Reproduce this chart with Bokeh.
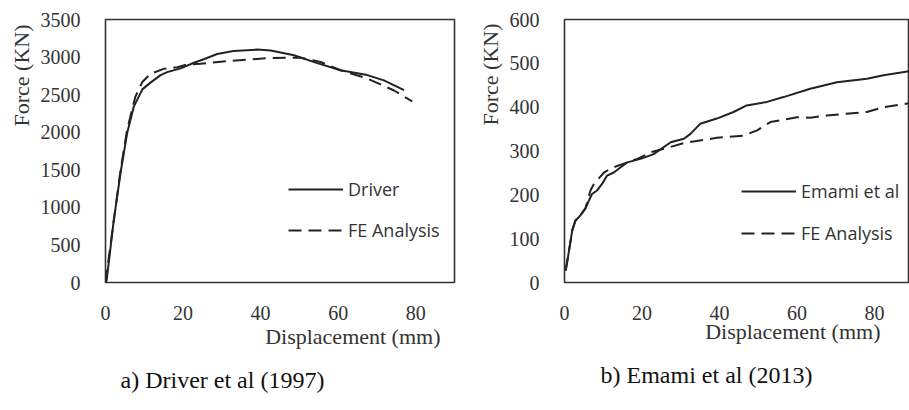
from bokeh.plotting import figure
from bokeh.layouts import row
from bokeh.models import Range1d, FixedTicker, Title, Legend, LegendItem
from bokeh.embed import file_html
from bokeh.resources import INLINE

# ---- data: a) Driver et al (1997)
driver_x = [0, 0.3, 2.1, 3.9, 5.6, 7.3, 9.5, 11.6, 14.2, 15.9, 19.4, 22.8, 25.5, 28.8, 33, 39.1, 42.6, 48.6, 54.6, 60.6, 67.5, 71.8, 77]
driver_y = [0, 30, 812, 1467, 1992, 2341, 2570, 2660, 2760, 2800, 2850, 2925, 2975, 3041, 3080, 3100, 3087, 3025, 2920, 2825, 2760, 2690, 2560]
fe1_x = [0, 2.1, 3.9, 5.6, 7.7, 9.5, 11.6, 15, 18.5, 21, 24.5, 31.4, 41.7, 46.9, 50, 55.5, 60.6, 67.5, 74.4, 79.1]
fe1_y = [0, 812, 1500, 2040, 2472, 2668, 2777, 2843, 2865, 2900, 2912, 2945, 2985, 2990, 2995, 2934, 2825, 2716, 2555, 2411]

# ---- data: b) Emami et al (2013)
emami_x = [0.3, 0.9, 2.0, 2.8, 4.1, 5.4, 6.3, 7.1, 8.4, 9.7, 11, 12.7, 14.5, 16.2, 19.6, 23, 27.4, 30.8, 32.5, 35, 39.3, 43.6, 47, 52.2, 56.5, 63.4, 70.3, 78, 82.3, 89]
emami_y = [27, 58, 119, 141, 153, 169, 187, 202, 210, 225, 244, 251, 263, 274, 282, 293, 320, 328, 339, 362, 374, 389, 404, 412, 423, 442, 457, 465, 473, 482]
fe2_x = [0.3, 0.9, 2.0, 2.8, 4.1, 5.4, 6.7, 7.6, 10.2, 12.7, 16.2, 18.8, 22.2, 26.5, 30.8, 39.3, 46.2, 49.7, 53.1, 60, 63.4, 67.7, 78, 82.3, 89]
fe2_y = [27, 58, 119, 141, 153, 169, 210, 225, 251, 263, 274, 282, 297, 307, 318, 330, 335, 347, 366, 377, 376, 381, 389, 400, 409]

x_ticks = [0, 20, 40, 60, 80]
y_ticks_a = [0, 500, 1000, 1500, 2000, 2500, 3000, 3500]
y_ticks_b = [0, 100, 200, 300, 400, 500, 600]

SERIF = "Liberation Serif"
SANS = "Open Sans"
TXT = "#333333"
LINE = "#222222"


def make_plot(width, xmax, ymax, yticks, border_left, border_right, border_top,
              xs, ys, xf, yf, lab1, ylab_offset, xlab_offset, xlab_standoff, cap, cap_offset,
              cap_standoff, leg_loc, leg_spacing):
    p = figure(width=width, height=410, x_range=Range1d(0, xmax), y_range=Range1d(0, ymax),
               output_backend="svg", toolbar_location=None,
               min_border_left=border_left, min_border_right=border_right,
               min_border_top=border_top, min_border_bottom=128)
    p.background_fill_color = "white"
    p.border_fill_color = "white"
    p.outline_line_color = "#333333"
    p.outline_line_width = 1.6
    p.grid.visible = False
    for ax in (p.xaxis[0], p.yaxis[0]):
        ax.axis_line_color = None
        ax.major_tick_line_color = None
        ax.minor_tick_line_color = None
        ax.major_label_text_font = SERIF
        ax.major_label_text_font_size = "20px"
        ax.major_label_text_color = TXT
    p.yaxis.major_label_standoff = 19
    p.xaxis.major_label_standoff = 17
    p.xaxis.ticker = FixedTicker(ticks=x_ticks)
    p.yaxis.ticker = FixedTicker(ticks=yticks)

    r1 = p.line(xs, ys, line_color=LINE, line_width=2)
    r2 = p.line(xf, yf, line_color=LINE, line_width=2, line_dash="13 7")

    leg = Legend(items=[LegendItem(label=lab1, renderers=[r1]),
                        LegendItem(label="FE Analysis", renderers=[r2])],
                 location=leg_loc, padding=0, margin=0, spacing=leg_spacing,
                 glyph_width=55, glyph_height=20, label_height=20, label_standoff=5,
                 label_text_font=SANS, label_text_font_size="18px", label_text_color=TXT,
                 border_line_color=None, background_fill_alpha=0)
    p.add_layout(leg)

    ylab = Title(text="Force (KN)", align="right", offset=ylab_offset, text_font=SERIF,
                 text_font_style="normal", text_font_size="22px", text_color=TXT, standoff=8)
    p.add_layout(ylab, "left")
    xlab = Title(text="Displacement (mm)", align="right", offset=xlab_offset, text_font=SERIF,
                 text_font_style="normal", text_font_size="22px", text_color=TXT,
                 standoff=xlab_standoff)
    p.add_layout(xlab, "below")
    capt = Title(text=cap, align="left", offset=cap_offset, text_font=SERIF,
                 text_font_style="normal", text_font_size="24px", text_color="#111111",
                 standoff=cap_standoff)
    p.add_layout(capt, "below")
    return p


p1 = make_plot(470, 90, 3500, y_ticks_a, 105, 16, 15, driver_x, driver_y, fe1_x, fe1_y,
               "Driver", 5, 14, -2, "a) Driver et al (1997)", 15, 35, (183, 40), 17)
p2 = make_plot(439, 89, 600, y_ticks_b, 94, 0, 19, emami_x, emami_y, fe2_x, fe2_y,
               "Emami et al", 4, 29, -12, "b) Emami et al (2013)", 36, 45, (177, 37), 18)

layout = row(p1, p2)
open("out.html", "w").write(file_html(layout, INLINE))
